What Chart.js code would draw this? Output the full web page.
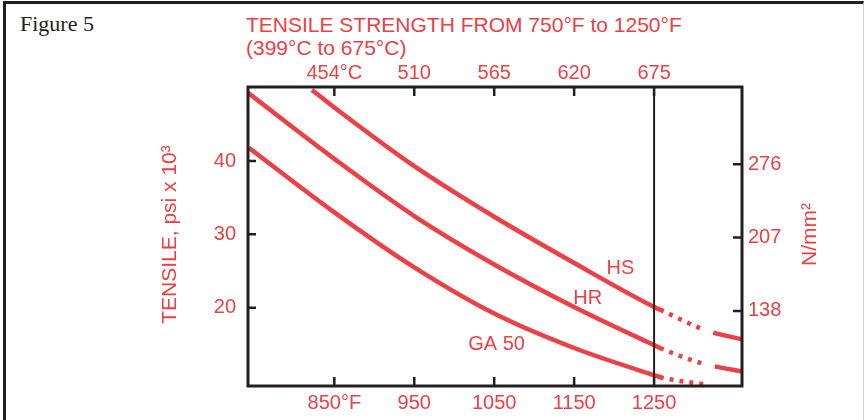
<!DOCTYPE html>
<html>
<head>
<meta charset="utf-8">
<script src="https://cdn.jsdelivr.net/npm/chart.js@4.4.1/dist/chart.umd.min.js"></script>
<style>
html, body { margin: 0; padding: 0; background: #fff; }
#wrap { position: relative; width: 866px; height: 420px; overflow: hidden; }
#frame { position: absolute; left: 3px; top: 1px; width: 857px; height: 440px;
  border-top: 3px solid #231f20; border-left: 3px solid #231f20; border-right: 1px solid #d4d4d4; }
#fig { position: absolute; left: 20px; top: 11px; font: 22px "Liberation Serif", serif; color: #231f20; }
#title { position: absolute; left: 246px; top: 13px; font: 21px "Liberation Sans", Arial, sans-serif;
  color: #ec4046; line-height: 23px; }
canvas { position: absolute; left: 0; top: 0; }
</style>
</head>
<body>
<div id="wrap">
  <div id="frame"></div>
  <div id="fig">Figure 5</div>
  <div id="title">TENSILE STRENGTH FROM 750°F to 1250°F<br>(399°C to 675°C)</div>
  <canvas id="chart" width="866" height="420"></canvas>
</div>
<script>
// temperature (°F) and tensile (ksi)
const hsTemp = [822, 850, 950, 1050, 1150, 1250, 1262, 1310, 1324, 1360]
const hsKsi = [49.7, 47.3, 39.3, 32.4, 26.1, 20.1, 19.5, 17.1, 16.6, 15.7]
const hrTemp = [742, 850, 950, 1050, 1150, 1250, 1262, 1310, 1326, 1360]
const hrKsi = [49.3, 40.3, 32.5, 25.9, 20.1, 14.9, 14.3, 12.4, 12.0, 11.3]
const gaTemp = [743, 850, 950, 1050, 1150, 1250, 1262, 1316]
const gaKsi = [41.8, 33.0, 25.5, 19.2, 14.5, 10.8, 10.4, 9.5]

const seriesNames = ["HS", "HR", "GA 50"]
const labelTemp = [1208, 1167, 1053]
const labelKsi = [25.4, 21.3, 15.0]

// where each curve turns dotted, and where the dots stop
const dotFrom = [1262, 1262, 1262]
const dotTo = [1310, 1310, 1316]
const gapTo = [1324, 1326, 1316]

const xTicks = [850, 950, 1050, 1150, 1250]
const xTickLabels = ["850°F", "950", "1050", "1150", "1250"]
const topTickLabels = ["454°C", "510", "565", "620", "675"]
const yTicks = [20, 30, 40]
const yTickLabels = ["20", "30", "40"]
const rTicks = [138, 207, 276]
const rTickLabels = ["138", "207", "276"]
const markerTemp = 1250

const red = "#ec4046"
const ink = "#231f20"
const font = "Liberation Sans"

const chartCanvas = document.getElementById("chart")

function toPoints(temps, vals) {
  return temps.map((t, i) => ({ x: t, y: vals[i] }))
}

function segStyle(ctx) {
  const i = ctx.datasetIndex
  const a = ctx.p0.parsed.x
  const b = ctx.p1.parsed.x
  if (a >= dotFrom[i] && b <= dotTo[i]) return "dot"
  if (a >= dotTo[i] && b <= gapTo[i]) return "gap"
  return "solid"
}

const datasets = [
  toPoints(hsTemp, hsKsi),
  toPoints(hrTemp, hrKsi),
  toPoints(gaTemp, gaKsi)
].map((data, i) => ({
  label: seriesNames[i],
  data,
  borderColor: red,
  borderWidth: 4.5,
  borderCapStyle: "butt",
  pointRadius: 0,
  cubicInterpolationMode: "monotone",
  segment: {
    borderDash: ctx => segStyle(ctx) == "dot" ? [4, 6] : undefined,
    borderDashOffset: ctx => segStyle(ctx) == "dot" ? 4 : undefined,
    borderColor: ctx => segStyle(ctx) == "gap" ? "rgba(0,0,0,0)" : undefined
  }
}))

function fixedTicks(list) {
  return scale => { scale.ticks = list.map(v => ({ value: v })) }
}

const tickFont = { family: font, size: 20 }

const framePlugin = {
  id: "frame",
  afterDatasetsDraw(chart) {
    const { ctx, chartArea: a, scales } = chart
    ctx.save()
    ctx.strokeStyle = ink
    const xv = scales.x.getPixelForValue(markerTemp)
    ctx.lineWidth = 2
    ctx.beginPath()
    ctx.moveTo(xv, a.top)
    ctx.lineTo(xv, a.bottom)
    ctx.stroke()

    // inward tick marks
    ctx.lineWidth = 2.5
    ctx.beginPath()
    xTicks.forEach(v => {
      const p = scales.x.getPixelForValue(v)
      ctx.moveTo(p, a.bottom); ctx.lineTo(p, a.bottom - 9)
      ctx.moveTo(p, a.top); ctx.lineTo(p, a.top + 9)
    })
    yTicks.forEach(v => {
      const p = scales.y.getPixelForValue(v)
      ctx.moveTo(a.left, p); ctx.lineTo(a.left + 8, p)
    })
    rTicks.forEach(v => {
      const p = scales.yR.getPixelForValue(v)
      ctx.moveTo(a.right, p); ctx.lineTo(a.right - 9, p)
    })
    ctx.stroke()

    ctx.lineWidth = 3
    ctx.strokeRect(a.left, a.top, a.right - a.left, a.bottom - a.top)

    // curve names
    ctx.fillStyle = red
    ctx.font = "20px " + font
    ctx.textAlign = "center"
    ctx.textBaseline = "middle"
    seriesNames.forEach((name, i) => {
      ctx.fillText(name, scales.x.getPixelForValue(labelTemp[i]), scales.y.getPixelForValue(labelKsi[i]))
    })

    // axis titles, both reading bottom to top
    const midY = (a.top + a.bottom) / 2
    ctx.font = "21px " + font
    ctx.save()
    ctx.translate(a.left - 78, midY - 2)
    ctx.rotate(-Math.PI / 2)
    ctx.fillText("TENSILE, psi x 10³", 0, 0)
    ctx.restore()
    ctx.save()
    ctx.translate(a.right + 68, midY - 2)
    ctx.rotate(-Math.PI / 2)
    ctx.fillText("N/mm²", 0, 0)
    ctx.restore()
    ctx.restore()
  }
}

const config = {
  type: "line",
  data: { datasets },
  options: {
    responsive: false,
    animation: false,
    events: [],
    layout: { padding: 0 },
    plugins: { legend: { display: false }, tooltip: { enabled: false } },
    scales: {
      x: {
        type: "linear", position: "bottom", min: 742, max: 1360,
        afterBuildTicks: fixedTicks(xTicks),
        afterFit: s => { s.height = 34 },
        grid: { display: false, drawTicks: false },
        border: { display: false },
        ticks: { color: red, font: tickFont, padding: 5, maxRotation: 0, autoSkip: false,
          callback: (v, i) => xTickLabels[i] }
      },
      xTop: {
        type: "linear", axis: "x", position: "top", min: 742, max: 1360,
        afterBuildTicks: fixedTicks(xTicks),
        afterFit: s => { s.height = 87 },
        grid: { display: false, drawTicks: false },
        border: { display: false },
        ticks: { color: red, font: tickFont, padding: 2, maxRotation: 0, autoSkip: false,
          callback: (v, i) => topTickLabels[i] }
      },
      y: {
        type: "linear", position: "left", min: 9.32, max: 50.1,
        afterBuildTicks: fixedTicks(yTicks),
        afterFit: s => { s.width = 248 },
        grid: { display: false, drawTicks: false },
        border: { display: false },
        ticks: { color: red, font: tickFont, padding: 12, autoSkip: false,
          callback: (v, i) => yTickLabels[i] }
      },
      yR: {
        type: "linear", axis: "y", position: "right", min: 67.4, max: 348.7,
        afterBuildTicks: fixedTicks(rTicks),
        afterFit: s => { s.width = 124 },
        grid: { display: false, drawTicks: false },
        border: { display: false },
        ticks: { color: red, font: tickFont, padding: 6, autoSkip: false,
          callback: (v, i) => rTickLabels[i] }
      }
    }
  },
  plugins: [framePlugin]
}

const myChart = new Chart(chartCanvas, config)
</script>
</body>
</html>
